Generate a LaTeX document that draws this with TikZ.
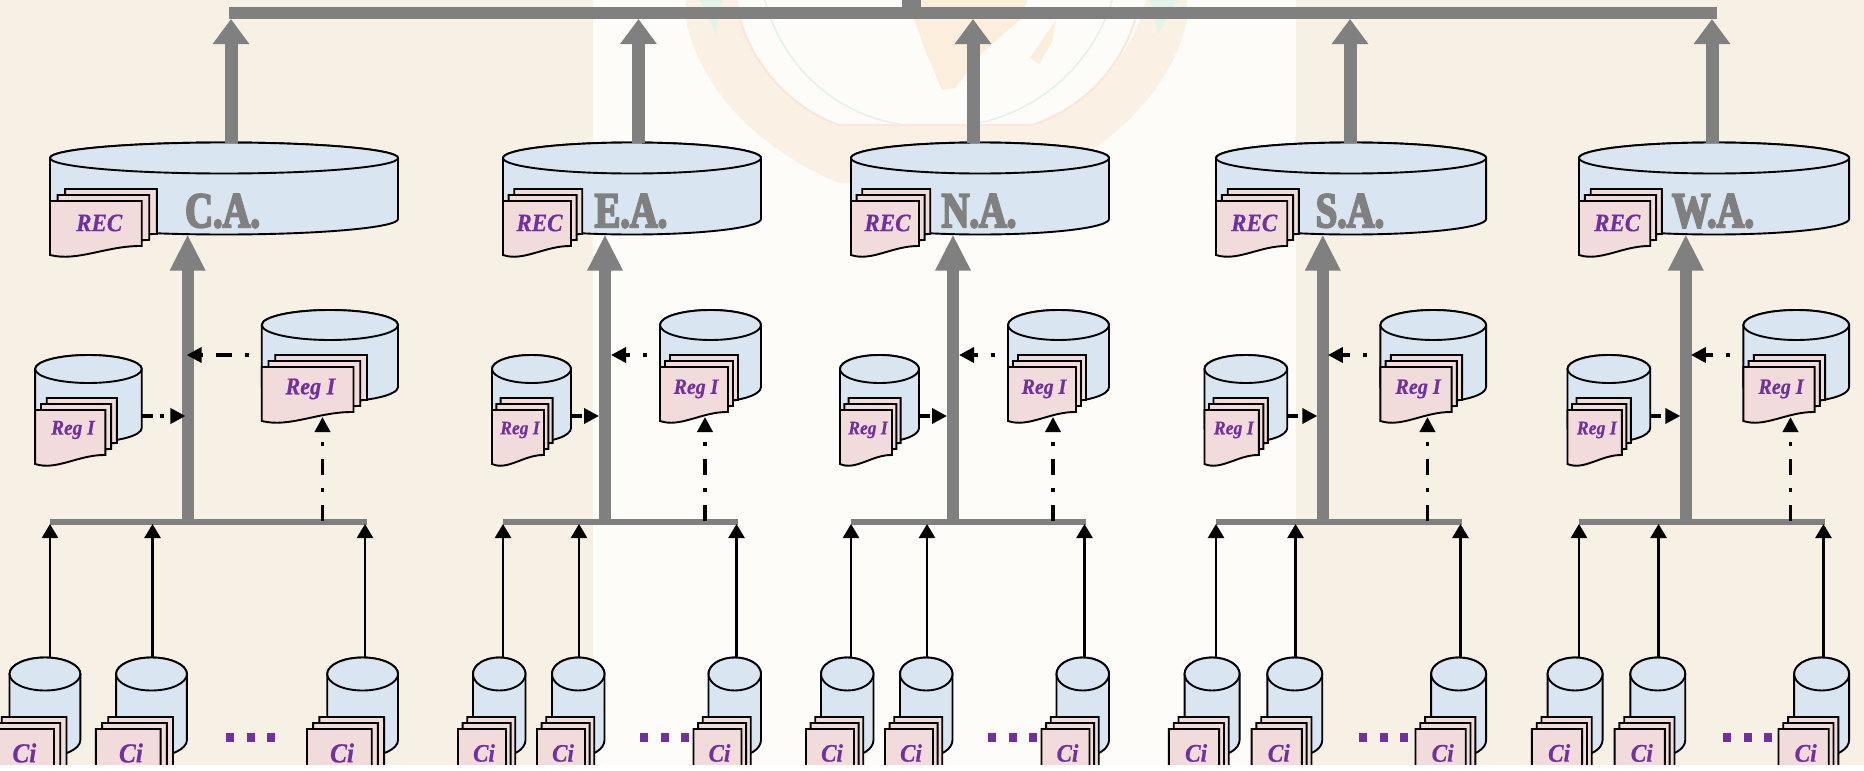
\documentclass[tikz,border=0pt]{standalone}
\usepackage{fontspec}
\setmainfont{Liberation Serif}
\newfontfamily\regionfont[FakeBold=4,FakeStretch=0.77]{Liberation Serif Bold}
\newfontfamily\docfont[FakeBold=0.6,FakeStretch=0.92]{Liberation Serif Bold Italic}
\usetikzlibrary{arrows.meta,calc}
\definecolor{cream}{HTML}{F7F0E4}
\definecolor{paleback}{HTML}{FDFCF8}
\definecolor{cylfill}{HTML}{DAE5F2}
\definecolor{docfill}{HTML}{F2DCDB}
\definecolor{violet}{HTML}{7030A0}
\definecolor{busgray}{HTML}{808080}
\tikzset{
  outline/.style={draw=black,line width=1.9pt,line join=miter},
  anchorbox/.style={inner sep=0pt,outer sep=0pt,minimum width=#1},
  docstyle/.style={outline,fill=docfill},
  cylstyle/.style={outline,fill=cylfill},
  toparrow/.style={draw=busgray,line width=13pt,-{Triangle[width=35pt,length=25pt]}},
  shaftarrow/.style={draw=busgray,line width=12pt,-{Triangle[width=33pt,length=36pt]}},
  thinarrow/.style={draw=black,line width=2.6pt,-{Triangle[width=16pt,length=14pt]}},
  dasharrow/.style={draw=black,line width=3.6pt,dash pattern=on 16pt off 13pt on 4pt off 13pt,-{Triangle[width=15pt,length=15pt]}},
  rightdash/.style={draw=black,line width=3.6pt,dash pattern=on 11pt off 7pt on 4pt off 13pt,-{Triangle[width=15pt,length=15pt]}},
  busline/.style={draw=busgray,line width=6pt},
  doctext/.style={text=violet,inner sep=0pt,font=\docfont},
  regionlabel/.style={text=busgray,inner sep=0pt},
  dotbox/.style={fill=violet,minimum width=8pt,minimum height=9pt,inner sep=0pt,outer sep=0pt},
}
% name, x1, x2, top centre y, bottom y, ry
\newcommand{\dbcyl}[6]{%
  \pgfmathsetmacro\cylrx{(#3-#2)/2}%
  \pgfmathsetmacro\cylcx{(#3+#2)/2}%
  \pgfmathsetmacro\cylcy{(#4+#5)/2}%
  \pgfmathsetmacro\cylh{#5-#4+2*#6}%
  \pgfmathsetmacro\cylw{#3-#2}%
  \path[cylstyle] (#2,#4) -- (#2,#5)
     arc[start angle=180,end angle=360,x radius=\cylrx pt,y radius=#6 pt]
     -- (#3,#4) arc[start angle=0,end angle=180,x radius=\cylrx pt,y radius=#6 pt] -- cycle;
  \path[cylstyle] (\cylcx,#4) ellipse[x radius=\cylrx pt,y radius=#6 pt];
  \node[anchorbox=\cylw pt,minimum height=\cylh pt] (#1) at (\cylcx,\cylcy) {};
}
% one sheet: x1, x2, top, right bottom, left bottom
\newcommand{\onesheet}[5]{%
  \pgfmathsetmacro\shw{#2-#1}%
  \pgfmathsetmacro\shA{#1+.62*\shw}%
  \pgfmathsetmacro\shB{#1+.30*\shw}%
  \pgfmathsetmacro\shC{#4-.5}%
  \pgfmathsetmacro\shD{#5+7}%
  \path[docstyle] (#1,#3) -- (#2,#3) -- (#2,#4)
     .. controls (\shA,\shC) and (\shB,\shD) .. (#1,#5) -- cycle;
}
% name, x1, x2, step, top, right bottom, left bottom
\newcommand{\docstack}[7]{%
  \pgfmathsetmacro\dsa{#2+2*#4}\pgfmathsetmacro\dsb{#3+2*#4}%
  \pgfmathsetmacro\dsc{#5-12}\pgfmathsetmacro\dsd{#6-12}\pgfmathsetmacro\dse{#7-12}%
  \onesheet{\dsa}{\dsb}{\dsc}{\dsd}{\dse}%
  \pgfmathsetmacro\dsa{#2+#4}\pgfmathsetmacro\dsb{#3+#4}%
  \pgfmathsetmacro\dsc{#5-6}\pgfmathsetmacro\dsd{#6-6}\pgfmathsetmacro\dse{#7-6}%
  \onesheet{\dsa}{\dsb}{\dsc}{\dsd}{\dse}%
  \onesheet{#2}{#3}{#5}{#6}{#7}%
  \pgfmathsetmacro\dsw{#3-#2}\pgfmathsetmacro\dsh{#7-#5}%
  \pgfmathsetmacro\dsx{(#2+#3)/2}\pgfmathsetmacro\dsy{(#5+#7)/2}%
  \node[anchorbox=\dsw pt,minimum height=\dsh pt] (#1) at (\dsx,\dsy) {};
}
% id, x0 (left of big cylinder), s, dx of bottom cylinder, index
\newcommand{\bottomdb}[5]{%
  \pgfmathsetmacro\ba{#2+#3*#4}\pgfmathsetmacro\bb{\ba+52.5*#3}%
  \dbcyl{#1c#5}{\ba}{\bb}{674}{740}{16.5}%
  \pgfmathsetmacro\bc{\ba-15*#3}\pgfmathsetmacro\bd{\ba+33*#3}\pgfmathsetmacro\be{4.6*#3}%
  \docstack{#1d#5}{\bc}{\bd}{\be}{729}{790}{790}%
  \pgfmathsetmacro\bf{\ba+11*#3}\pgfmathsetmacro\bg{25+(#3-1)*7}%
  \node[doctext] (#1t#5) at (\bf,753) {\fontsize{\bg pt}{\bg pt}\selectfont Ci};
}
% id, x0, s, label, dots x, top arrow x
\newcommand{\region}[6]{%
  \pgfmathsetmacro\px{#2+258*#3}%
  \coordinate (#1up) at (#6,19);
  \dbcyl{#1big}{#2}{\px}{158}{219}{15.5}%
  \pgfmathsetmacro\pa{#2+68*#3}\pgfmathsetmacro\pb{5.6*#3}%
  \docstack{#1rec}{#2}{\pa}{\pb}{201}{246}{255}%
  \pgfmathsetmacro\pa{#2+36.5*#3}%
  \node[doctext] (#1rect) at (\pa,223) {\fontsize{25pt}{25pt}\selectfont REC};
  \pgfmathsetmacro\pa{#2+128*#3}%
  \node[regionlabel] (#1lab) at (\pa,211) {\fontsize{50pt}{50pt}\selectfont\regionfont #4};
  % regional databases
  \pgfmathsetmacro\pa{#2-11*#3}\pgfmathsetmacro\pb{#2+68*#3}%
  \dbcyl{#1ldb}{\pa}{\pb}{369}{428}{14}%
  \pgfmathsetmacro\pb{#2+41*#3}\pgfmathsetmacro\pc{4.3*#3}%
  \docstack{#1ldoc}{\pa}{\pb}{\pc}{410}{455}{464}%
  \pgfmathsetmacro\pa{#2+17*#3}\pgfmathsetmacro\pb{19+(#3-1)*5.7}%
  \node[doctext] (#1ltxt) at (\pa,430) {\fontsize{\pb pt}{\pb pt}\selectfont Reg I};
  \pgfmathsetmacro\pa{#2+157*#3}%
  \dbcyl{#1rdb}{\pa}{\px}{325}{387}{15}%
  \pgfmathsetmacro\pb{#2+225*#3}\pgfmathsetmacro\pc{5*#3}%
  \docstack{#1rdoc}{\pa}{\pb}{\pc}{367}{412}{421}%
  \pgfmathsetmacro\pa{#2+193*#3}\pgfmathsetmacro\pb{21.5+(#3-1)*7.2}%
  \node[doctext] (#1rtxt) at (\pa,389) {\fontsize{\pb pt}{\pb pt}\selectfont Reg I};
  % bus and shaft
  \pgfmathsetmacro\pa{#2+235*#3}\pgfmathsetmacro\sx{#2+102*#3}%
  \coordinate (#1busL) at (#2,521.5);
  \coordinate (#1busR) at (\pa,521.5);
  \coordinate (#1sh) at (\sx,524);
  \draw[busline] (#1busL) -- (#1busR);
  \draw[shaftarrow] (#1sh) -- (#1sh |- #1big.south);
  % dash-dot arrows
  \pgfmathsetmacro\pa{\sx-6+(#3-1)*11}\coordinate (#1la) at (\pa,416);
  \pgfmathsetmacro\pa{\sx+6-(#3-1)*20}\coordinate (#1ra) at (\pa,355);
  \pgfmathsetmacro\pa{#2+202*#3}\coordinate (#1va) at (\pa,521);
  \coordinate (#1vt) at (\pa,417);
  \draw[rightdash] (#1la -| #1ldb.east) -- (#1la);
  \draw[dasharrow,dash phase=16pt] (#1ra -| #1rdb.west) -- (#1ra);
  \draw[dasharrow] (#1va) -- (#1vt);
  % centre databases
  \bottomdb{#1}{#2}{#3}{-30}{1}%
  \bottomdb{#1}{#2}{#3}{49}{2}%
  \bottomdb{#1}{#2}{#3}{205.5}{3}%
  \pgfmathsetmacro\pa{#2}\coordinate (#1e1) at (\pa,524);
  \pgfmathsetmacro\pa{#2+76*#3}\coordinate (#1e2) at (\pa,524);
  \pgfmathsetmacro\pa{#2+233.5*#3}\coordinate (#1e3) at (\pa,524);
  \draw[thinarrow] (#1e1 |- #1c1.north) -- (#1e1);
  \draw[thinarrow] (#1e2 |- #1c2.north) -- (#1e2);
  \draw[thinarrow] (#1e3 |- #1c3.north) -- (#1e3);
  \node[dotbox] (#1p1) at (#5,737) {};
  \pgfmathsetmacro\pa{#5+20.5}\node[dotbox] (#1p2) at (\pa,737) {};
  \pgfmathsetmacro\pa{#5+41}\node[dotbox] (#1p3) at (\pa,737) {};
  \draw[toparrow] (#1up |- #1big.north) -- (#1up);
}
\begin{document}
\begin{tikzpicture}[x=1pt,y=-1pt]
\useasboundingbox (0,0) rectangle (1864,771);
\clip (0,0) rectangle (1864,771);
\fill[cream] (0,0) rectangle (1864,771);
\fill[paleback] (593,0) rectangle (1296,771);
% faint emblem behind the diagram
\fill[color={rgb,255:red,250;green,241;blue,228}] (686,0) -- (686,20)
   .. controls (700,90) and (760,150) .. (839,183) -- (1032,183)
   .. controls (1110,150) and (1172,90) .. (1187,20) -- (1187,0) -- (1146,0)
   .. controls (1132,60) and (1085,105) .. (1032,125) -- (839,125)
   .. controls (790,105) and (745,60) .. (738,0) -- cycle;
\draw[color={rgb,255:red,250;green,230;blue,218},line width=2pt] (740,20)
   .. controls (755,70) and (795,110) .. (839,125) -- (1032,125)
   .. controls (1080,110) and (1120,70) .. (1135,20);
\draw[color={rgb,255:red,228;green,243;blue,234},line width=1.6pt] (765,0)
   .. controls (780,60) and (830,115) .. (905,125);
\draw[color={rgb,255:red,228;green,243;blue,234},line width=1.6pt] (967,125)
   .. controls (1040,115) and (1095,60) .. (1112,0);
\fill[color={rgb,255:red,226;green,243;blue,233}] (700,0) -- (722,0) -- (716,34) -- cycle;
\fill[color={rgb,255:red,226;green,243;blue,233}] (1150,0) -- (1178,0) -- (1158,34) -- cycle;
\fill[color={rgb,255:red,251;green,238;blue,220}] (905,0) -- (1027,0) -- (1022,18) -- (985,50)
   -- (955,88) -- (942,90) -- (925,50) -- (915,22) -- cycle;
\fill[color={rgb,255:red,251;green,238;blue,220}] (1056,20) -- (1030,58) -- (1039,64) -- (1052,42) -- cycle;
% top bus
\coordinate (topL) at (229,13);
\coordinate (topR) at (1717,13);
\coordinate (topS) at (911.5,0);
\coordinate (topM) at (911.5,13);
\region{ca}{50}{1.349}{C.A.}{230}{231}
\region{ea}{503}{1}{E.A.}{644}{638.5}
\region{na}{851}{1}{N.A.}{992}{973}
\region{sa}{1216}{1.047}{S.A.}{1363}{1350}
\region{wa}{1579}{1.047}{W.A.}{1727}{1712}
\draw[draw=busgray,line width=12pt] (topL) -- (topR);
\draw[draw=busgray,line width=19pt] (topS) -- (topM);
\fill[white] (0,765) rectangle (1864,771);
\end{tikzpicture}
\end{document}
